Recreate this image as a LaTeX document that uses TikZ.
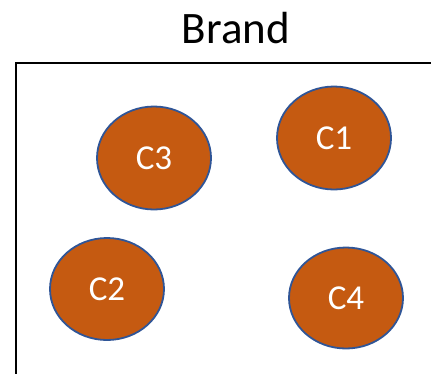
\documentclass[tikz,border=0pt]{standalone}
\usepackage{fontspec}
\setmainfont{Carlito}
\usepackage{xcolor}
\usetikzlibrary{shapes.geometric, positioning}

\definecolor{clusterfill}{HTML}{C55A11}
\definecolor{clusterline}{HTML}{2F5597}

\begin{document}
\begin{tikzpicture}[x=1pt, y=-1pt,
    cluster/.style={ellipse, draw=clusterline, line width=1.8pt, fill=clusterfill,
        text=white, inner sep=0pt, font=\fontsize{35}{40}\selectfont}]

                \useasboundingbox (0,0) rectangle (431,373);
                \clip (0,0) rectangle (431,373);

                % brand frame, open to the right and bottom
                \coordinate (frametl) at (16,63);
                \coordinate (framebr) at (450,400);
                \draw [black, line width=2pt] (frametl) rectangle (framebr);

                \node (brand) at (236,28) {\fontsize{45}{50}\selectfont Brand};

                \node [cluster, minimum width=114pt, minimum height=103pt] (c1) at (334,138) {C1};
                \node [cluster, minimum width=114pt, minimum height=102pt] (c2) at (107,289) {C2};
                \node [cluster, minimum width=114pt, minimum height=103pt] (c3) at (154,158) {C3};
                \node [cluster, minimum width=114pt, minimum height=101pt] (c4) at (346,298) {C4};

            \end{tikzpicture}
\end{document}
